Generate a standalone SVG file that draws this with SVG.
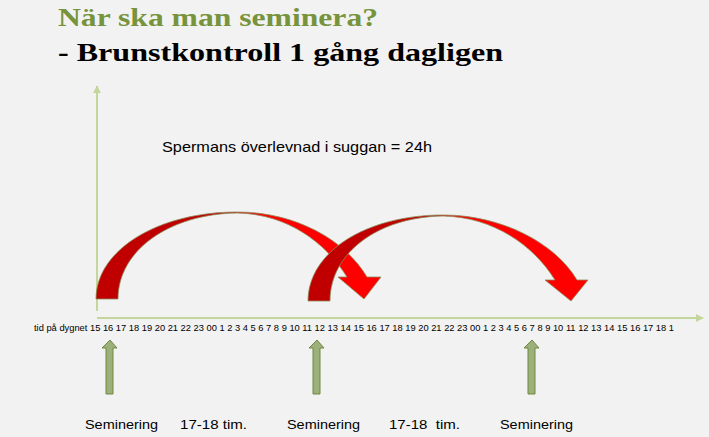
<svg xmlns="http://www.w3.org/2000/svg" width="709" height="437" viewBox="0 0 709 437">
<defs>
<style>
.t1{font-family:"Liberation Serif","Times New Roman",serif;font-weight:bold;font-size:26px}
.lbl{font-family:"Liberation Sans",Arial,sans-serif;fill:#000}
.axis{stroke:#C3D69B;stroke-width:2;fill:none}
.dark{fill:#C00000;stroke:#8C8C5A;stroke-width:0.8}
.bright{fill:#FF0000;stroke:#8C8C5A;stroke-width:0.8}
.up{fill:#9BB07A;stroke:#71893F;stroke-width:1}
</style>
<marker id="ah" viewBox="0 0 10 10" refX="9" refY="5" markerWidth="4" markerHeight="4" orient="auto">
<path d="M0,0 L10,5 L0,10 z" fill="#C3D69B"/>
</marker>
</defs>
<rect width="709" height="437" fill="#F2F2F2"/>
<g id="title">
<text class="t1" x="58" y="26" fill="#77933C" textLength="320" lengthAdjust="spacingAndGlyphs">När ska man seminera?</text>
<text class="t1" x="58" y="61" fill="#000" textLength="445" lengthAdjust="spacingAndGlyphs">- Brunstkontroll 1 gång dagligen</text>
</g>
<g id="connectors">
<line class="axis" x1="97" y1="311" x2="97" y2="86" marker-end="url(#ah)"/>
<line class="axis" x1="97" y1="318" x2="703" y2="318" marker-end="url(#ah)"/>
</g>
<g id="note">
<text class="lbl" x="162" y="152" font-size="14.5" textLength="270" lengthAdjust="spacingAndGlyphs">Spermans överlevnad i suggan = 24h</text>
</g>
<g id="timeline">
<text class="lbl" x="34" y="331" font-size="9" textLength="640" lengthAdjust="spacingAndGlyphs">tid på dygnet 15 16 17 18 19 20 21 22 23 00 1 2 3 4 5 6 7 8 9 10 11 12 13 14 15 16 17 18 19 20 21 22 23 00 1 2 3 4 5 6 7 8 9 10 11 12 13 14 15 16 17 18 1</text>
</g>
<g id="curve1">
<path class="bright" d="M237,212 C296,212 345,240 367,277 L381,277 L364,299 L338,277 L347,277 C326,243 288,214 237,213 Z"/>
<path class="dark" d="M96,299 C96,250 158,212 237,212 L237,213 C170,214 118,250 118,299 Z"/>
</g>
<g id="curve2">
<path class="bright" d="M443,215 C502,215 555,243 577,280 L588,280 L571,301 L545,280 L555,280 C534,246 494,217 443,216 Z"/>
<path class="dark" d="M308,301 C308,252 366,215 443,215 L443,216 C378,217 330,253 330,301 Z"/>
</g>
<g id="sem1">
<path class="up" d="M110,340 L117,348 L113,348 L113,394 L106,394 L106,348 L102,348 Z"/>
<text class="lbl" x="85" y="429" font-size="13.5" textLength="73" lengthAdjust="spacingAndGlyphs">Seminering</text>
</g>
<g id="gap1">
<text class="lbl" x="180" y="429" font-size="13.5" textLength="67" lengthAdjust="spacingAndGlyphs">17-18 tim.</text>
</g>
<g id="sem2">
<path class="up" d="M317,340 L324,348 L320,348 L320,394 L313,394 L313,348 L309,348 Z"/>
<text class="lbl" x="287" y="429" font-size="13.5" textLength="73" lengthAdjust="spacingAndGlyphs">Seminering</text>
</g>
<g id="gap2">
<text class="lbl" x="389" y="429" font-size="13.5" textLength="71" lengthAdjust="spacingAndGlyphs" xml:space="preserve">17-18  tim.</text>
</g>
<g id="sem3">
<path class="up" d="M532,340 L539,348 L535,348 L535,394 L528,394 L528,348 L524,348 Z"/>
<text class="lbl" x="500" y="429" font-size="13.5" textLength="73" lengthAdjust="spacingAndGlyphs">Seminering</text>
</g>
</svg>
